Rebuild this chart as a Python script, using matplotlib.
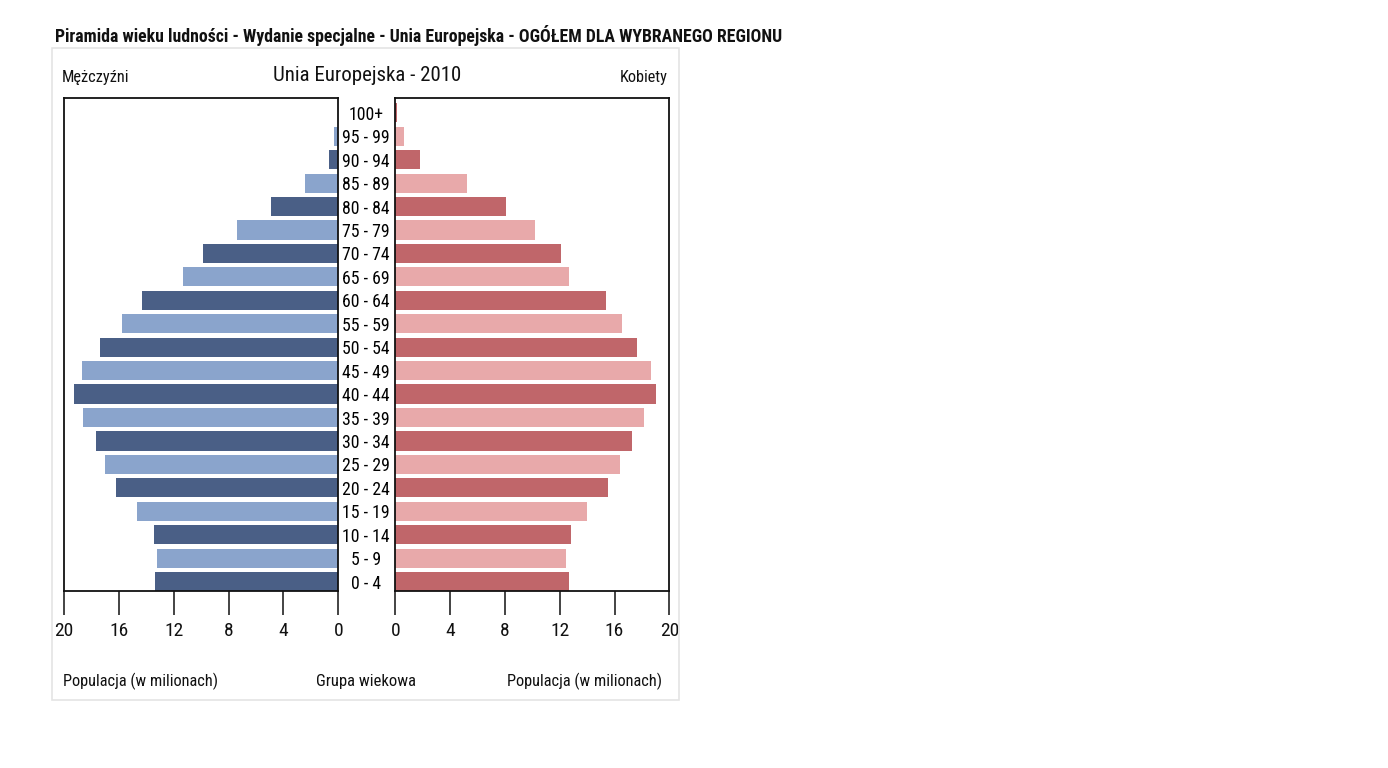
import matplotlib
matplotlib.use("Agg")
import matplotlib.pyplot as plt
from matplotlib import font_manager as fm
from matplotlib.patches import Rectangle

# ---------------- data ----------------
age_groups = ["0 - 4", "5 - 9", "10 - 14", "15 - 19", "20 - 24", "25 - 29", "30 - 34",
              "35 - 39", "40 - 44", "45 - 49", "50 - 54", "55 - 59", "60 - 64", "65 - 69",
              "70 - 74", "75 - 79", "80 - 84", "85 - 89", "90 - 94", "95 - 99", "100+"]
male = [13.4, 13.2, 13.45, 14.65, 16.2, 17.0, 17.7, 18.6, 19.3, 18.7, 17.4, 15.8, 14.3,
        11.3, 9.87, 7.4, 4.94, 2.46, 0.7, 0.29, 0.03]
female = [12.7, 12.46, 12.8, 13.97, 15.5, 16.4, 17.3, 18.15, 19.03, 18.7, 17.66, 16.55, 15.4,
          12.7, 12.1, 10.2, 8.08, 5.23, 1.8, 0.66, 0.1]
x_ticks = [0, 4, 8, 12, 16, 20]

title = "Piramida wieku ludności - Wydanie specjalne - Unia Europejska - OGÓŁEM DLA WYBRANEGO REGIONU"
subtitle = "Unia Europejska - 2010"
left_label = "Mężczyźni"
right_label = "Kobiety"
x_label = "Populacja (w milionach)"
mid_label = "Grupa wiekowa"

male_colors = ["#4a5f86", "#8aa4cc"]
female_colors = ["#c0666a", "#e8a9aa"]

# ---------------- font choice ----------------
entries = fm.fontManager.ttflist
names = {f.name for f in entries}
fam = "DejaVu Sans"
stretch = "normal"
for cand in ["Roboto Condensed", "Liberation Sans Narrow", "Open Sans Condensed"]:
    if cand in names:
        fam = cand
        break
else:
    if any(f.name == "DejaVu Sans" and f.stretch in ("condensed", "semi-condensed") for f in entries):
        stretch = "condensed"
plt.rcParams["font.family"] = [fam, "DejaVu Sans"]
plt.rcParams["font.stretch"] = stretch

W, H = 1388, 768
fig = plt.figure(figsize=(W / 100, H / 100), dpi=100)
fig.patch.set_facecolor("white")

def fx(px):
    return px / W

def fy(py):
    return 1 - py / H

# panel frame
fig.add_artist(Rectangle((fx(52), fy(700)), fx(679) - fx(52), fy(48) - fy(700),
                         transform=fig.transFigure, fill=False, edgecolor="#e4e4e4", lw=1.2))

axL = fig.add_axes([fx(64), fy(590.7), fx(338.3) - fx(64), fy(98.3) - fy(590.7)])
axR = fig.add_axes([fx(395.3), fy(590.7), fx(669.3) - fx(395.3), fy(98.3) - fy(590.7)])

ypos = list(range(len(age_groups)))
axL.barh(ypos, male, height=0.82, color=[male_colors[i % 2] for i in ypos])
axR.barh(ypos, female, height=0.82, color=[female_colors[i % 2] for i in ypos])

for ax in (axL, axR):
    ax.set_ylim(-0.39, 20.62)
    ax.set_xticks(x_ticks)
    ax.set_xticklabels([str(t) for t in x_ticks])
    ax.tick_params(axis="x", direction="out", length=17.5, width=1.1, pad=5,
                   labelsize=14, colors="#111111")
    for s in ax.spines.values():
        s.set_linewidth(1.3)
        s.set_color("#111111")
axL.set_xlim(20, 0)
axR.set_xlim(0, 20)
axL.set_yticks([])
axR.set_yticks(ypos)
axR.set_yticklabels(age_groups)
axR.tick_params(axis="y", length=0, pad=21, labelsize=12.8)
for lab in axR.get_yticklabels():
    lab.set_horizontalalignment("center")

texts = []
def put(s, x, y, ha, target_w, size, weight="normal"):
    t = fig.text(fx(x), fy(y), s, ha=ha, va="baseline", fontsize=size,
                 fontweight=weight, color="#111111")
    texts.append((t, target_w))
    return t

put(title, 55, 42, "left", 732, 14, "bold")
put(left_label, 62, 82, "left", 68, 13)
put(subtitle, 367, 81, "center", 188, 17)
put(right_label, 668, 82, "right", 48, 13)
put(x_label, 63, 686, "left", 155, 13)
put(mid_label, 366, 686, "center", 100, 13)
put(x_label, 662, 686, "right", 155, 13)

fig.canvas.draw()
r = fig.canvas.get_renderer()
for t, tw in texts:
    w = t.get_window_extent(r).width
    t.set_fontsize(t.get_fontsize() * tw / w)

fig.savefig("out.png", dpi=100)
